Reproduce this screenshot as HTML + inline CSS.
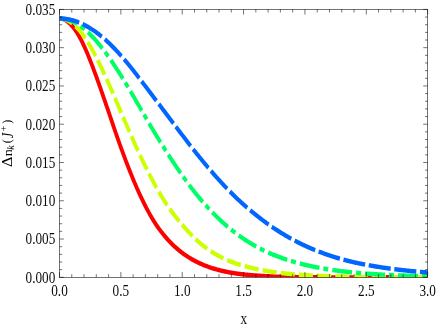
<!DOCTYPE html>
<html><head><meta charset="utf-8"><style>
html,body{margin:0;padding:0;background:#fff;}
body{width:436px;height:327px;overflow:hidden;}
svg{display:block;}
text{font-family:"Liberation Serif",serif;font-size:16.5px;fill:#000;}
</style></head><body>
<svg width="436" height="327" viewBox="0 0 436 327">
<rect width="436" height="327" fill="#fff"/>
<defs><clipPath id="c"><rect x="59.50" y="9.40" width="368.15" height="267.90"/></clipPath></defs>
<g clip-path="url(#c)"><g transform="scale(0.85,1)" fill="none" stroke-width="4.45">
<path d="M70.01,18.54 L70.91,18.55 L71.81,18.62 L72.73,18.75 L73.64,18.94 L74.56,19.20 L75.47,19.51 L76.39,19.88 L77.31,20.32 L78.24,20.81 L79.16,21.35 L80.08,21.96 L81.00,22.62 L81.93,23.34 L82.85,24.12 L83.78,24.95 L84.70,25.83 L85.62,26.77 L86.55,27.76 L87.47,28.80 L88.39,29.90 L89.31,31.04 L90.23,32.23 L91.15,33.48 L92.06,34.77 L92.97,36.10 L93.88,37.49 L94.78,38.92 L95.68,40.39 L96.57,41.91 L97.46,43.46 L98.35,45.06 L99.24,46.69 L100.13,48.36 L101.02,50.06 L101.90,51.80 L102.79,53.57 L103.68,55.38 L104.57,57.21 L105.45,59.07 L106.34,60.96 L107.22,62.87 L108.11,64.81 L109.00,66.78 L109.88,68.77 L110.77,70.78 L111.65,72.80 L112.54,74.85 L113.42,76.92 L114.31,79.00 L115.19,81.09 L116.07,83.20 L116.96,85.33 L117.84,87.46 L118.72,89.61 L119.61,91.76 L120.49,93.92 L121.37,96.09 L122.26,98.26 L123.14,100.44 L124.02,102.62 L124.90,104.81 L125.78,106.99 L126.67,109.18 L127.55,111.36 L128.42,113.55 L129.30,115.73 L130.17,117.91 L131.04,120.09 L131.90,122.26 L132.77,124.43 L133.63,126.59 L134.50,128.74 L135.36,130.88 L136.22,133.02 L137.09,135.14 L137.95,137.25 L138.82,139.36 L139.69,141.44 L140.55,143.52 L141.42,145.58 L142.29,147.63 L143.16,149.66 L144.03,151.68 L144.90,153.69 L145.77,155.67 L146.64,157.64 L147.51,159.60 L148.38,161.54 L149.25,163.46 L150.11,165.36 L150.98,167.25 L151.84,169.11 L152.70,170.96 L153.56,172.79 L154.42,174.60 L155.28,176.40 L156.13,178.17 L156.99,179.93 L157.84,181.66 L158.69,183.38 L159.54,185.07 L160.39,186.75 L161.24,188.40 L162.09,190.04 L162.94,191.65 L163.79,193.25 L164.64,194.82 L165.49,196.37 L166.34,197.90 L167.19,199.41 L168.05,200.90 L168.90,202.37 L169.75,203.82 L170.60,205.25 L171.44,206.66 L172.29,208.05 L173.13,209.42 L173.98,210.78 L174.83,212.11 L175.67,213.42 L176.52,214.71 L177.37,215.98 L178.22,217.23 L179.08,218.46 L179.94,219.66 L180.80,220.85 L181.66,222.02 L182.52,223.17 L183.39,224.30 L184.26,225.40 L185.14,226.49 L186.02,227.56 L186.90,228.60 L187.79,229.63 L188.67,230.64 L189.56,231.63 L190.45,232.60 L191.34,233.55 L192.23,234.49 L193.12,235.41 L194.01,236.32 L194.90,237.20 L195.79,238.07 L196.68,238.93 L197.57,239.77 L198.46,240.59 L199.35,241.40 L200.24,242.19 L201.14,242.96 L202.03,243.73 L202.92,244.47 L203.81,245.21 L204.70,245.92 L205.60,246.63 L206.49,247.32 L207.38,248.00 L208.27,248.66 L209.17,249.31 L210.06,249.95 L210.95,250.57 L211.85,251.19 L212.74,251.79 L213.63,252.37 L214.53,252.95 L215.42,253.52 L216.31,254.07 L217.21,254.61 L218.10,255.14 L218.99,255.66 L219.89,256.17 L220.78,256.67 L221.67,257.15 L222.57,257.63 L223.46,258.10 L224.36,258.56 L225.25,259.00 L226.14,259.44 L227.04,259.87 L227.93,260.29 L228.82,260.70 L229.72,261.11 L230.61,261.50 L231.51,261.88 L232.40,262.26 L233.29,262.63 L234.19,262.99 L235.08,263.34 L235.97,263.69 L236.87,264.03 L237.76,264.36 L238.65,264.68 L239.55,264.99 L240.44,265.30 L241.33,265.61 L242.23,265.90 L243.12,266.19 L244.01,266.47 L244.90,266.75 L245.80,267.02 L246.69,267.28 L247.58,267.54 L248.47,267.79 L249.37,268.04 L250.26,268.28 L251.15,268.51 L252.04,268.74 L252.94,268.97 L253.83,269.19 L254.72,269.40 L255.61,269.61 L256.50,269.82 L257.39,270.02 L258.29,270.21 L259.18,270.40 L260.07,270.59 L260.96,270.77 L261.85,270.95 L262.74,271.12 L263.63,271.29 L264.52,271.46 L265.41,271.62 L266.31,271.78 L267.20,271.93 L268.09,272.08 L268.98,272.23 L269.87,272.37 L270.76,272.51 L271.65,272.64 L272.54,272.77 L273.43,272.90 L274.32,273.02 L275.21,273.14 L276.10,273.26 L276.99,273.38 L277.88,273.49 L278.77,273.60 L279.66,273.70 L280.55,273.80 L281.44,273.90 L282.33,274.00 L283.22,274.10 L284.11,274.19 L285.00,274.28 L285.89,274.36 L286.78,274.45 L287.67,274.53 L288.56,274.61 L289.45,274.69 L290.34,274.77 L291.23,274.84 L292.11,274.91 L293.00,274.98 L293.89,275.05 L294.78,275.12 L295.67,275.18 L296.56,275.25 L297.44,275.31 L298.33,275.37 L299.22,275.42 L300.11,275.48 L301.00,275.54 L301.88,275.59 L302.77,275.64 L303.66,275.69 L304.55,275.74 L305.43,275.79 L306.32,275.84 L307.21,275.89 L308.10,275.93 L308.98,275.98 L309.87,276.02 L310.76,276.06 L311.64,276.10 L312.53,276.14 L313.42,276.18 L314.31,276.22 L315.19,276.26 L316.08,276.30 L316.97,276.33 L317.85,276.37 L318.74,276.40 L319.63,276.43 L320.51,276.46 L321.40,276.49 L322.28,276.52 L323.17,276.55 L324.06,276.58 L324.94,276.61 L325.83,276.63 L326.72,276.66 L327.60,276.68 L328.49,276.71 L329.38,276.73 L330.26,276.75 L331.15,276.78 L332.03,276.80 L332.92,276.82 L333.81,276.84 L334.69,276.86 L335.58,276.88 L336.46,276.90 L337.35,276.91 L338.24,276.93 L339.12,276.95 L340.01,276.97 L340.89,276.98 L341.78,277.00 L342.67,277.01 L343.55,277.03 L344.44,277.04 L345.32,277.05 L346.21,277.07 L347.10,277.08 L347.98,277.09 L348.87,277.10 L349.75,277.11 L350.64,277.13 L351.52,277.14 L352.41,277.15 L353.30,277.16 L354.18,277.17 L355.07,277.18 L355.95,277.18 L356.84,277.19 L357.72,277.20 L358.61,277.21 L359.49,277.22 L360.38,277.23 L361.27,277.23 L362.15,277.24 L363.04,277.25 L363.92,277.25 L364.81,277.26 L365.69,277.27 L366.58,277.27 L367.47,277.28 L368.35,277.28 L369.24,277.29 L370.12,277.29 L371.01,277.30 L371.89,277.30 L372.78,277.31 L373.66,277.31 L374.55,277.32 L375.43,277.32 L376.32,277.33 L377.21,277.33 L378.09,277.33 L378.98,277.34 L379.86,277.34 L380.75,277.34 L381.63,277.35 L382.52,277.35 L383.40,277.35 L384.29,277.36 L385.17,277.36 L386.06,277.36 L386.95,277.36 L387.83,277.37 L388.72,277.37 L389.60,277.37 L390.49,277.37 L391.37,277.38 L392.26,277.38 L393.14,277.38 L394.03,277.38 L394.91,277.38 L395.80,277.38 L396.69,277.39 L397.57,277.39 L398.46,277.39 L399.34,277.39 L400.23,277.39 L401.11,277.39 L402.00,277.39 L402.88,277.39 L403.77,277.39 L404.65,277.39 L405.54,277.39 L406.42,277.39 L407.31,277.39 L408.20,277.39 L409.08,277.39 L409.97,277.39 L410.85,277.39 L411.74,277.39 L412.62,277.39 L413.51,277.39 L414.39,277.39 L415.28,277.39 L416.16,277.39 L417.05,277.39 L417.93,277.39 L418.82,277.39 L419.70,277.39 L420.59,277.39 L421.48,277.39 L422.36,277.39 L423.25,277.39 L424.13,277.38 L425.02,277.38 L425.90,277.38 L426.79,277.38 L427.67,277.38 L428.56,277.38 L429.44,277.38 L430.33,277.38 L431.21,277.38 L432.10,277.37 L432.99,277.37 L433.87,277.37 L434.76,277.37 L435.64,277.37 L436.53,277.37 L437.41,277.37 L438.30,277.36 L439.18,277.36 L440.07,277.36 L440.95,277.36 L441.84,277.36 L442.72,277.36 L443.61,277.36 L444.49,277.35 L445.38,277.35 L446.27,277.35 L447.15,277.35 L448.04,277.35 L448.92,277.35 L449.81,277.35 L450.69,277.34 L451.58,277.34 L452.46,277.34 L453.35,277.34 L454.23,277.34 L455.12,277.34 L456.00,277.34 L456.89,277.33 L457.77,277.33 L458.66,277.33 L459.55,277.33 L460.43,277.33 L461.32,277.33 L462.20,277.33 L463.09,277.32 L463.97,277.32 L464.86,277.32 L465.74,277.32 L466.63,277.32 L467.51,277.32 L468.40,277.32 L469.28,277.32 L470.17,277.31 L471.05,277.31 L471.94,277.31 L472.83,277.31 L473.71,277.31 L474.60,277.31 L475.48,277.31 L476.37,277.31 L477.25,277.30 L478.14,277.30 L479.02,277.30 L479.91,277.30 L480.79,277.30 L481.68,277.30 L482.56,277.30 L483.45,277.30 L484.33,277.30 L485.22,277.30 L486.11,277.30 L486.99,277.30 L487.88,277.30 L488.76,277.29 L489.65,277.29 L490.53,277.29 L491.42,277.29 L492.30,277.29 L493.19,277.29 L494.07,277.29 L494.96,277.29 L495.84,277.29 L496.73,277.29 L497.61,277.29 L498.50,277.29 L499.39,277.29 L500.27,277.29 L501.16,277.29 L502.04,277.29 L502.93,277.29 L503.81,277.29 L504.70,277.29 L505.58,277.29 L506.47,277.29 L507.35,277.29 L508.24,277.29 L509.12,277.29 L510.01,277.29 L510.89,277.29 L511.78,277.29" stroke="#ff0000"/>
<path d="M70.01,18.54 L70.90,18.54 L71.80,18.58 L72.70,18.66 L73.60,18.78 L74.51,18.93 L75.41,19.13 L76.32,19.36 L77.23,19.63 L78.13,19.93 L79.04,20.27 L79.95,20.65 L80.86,21.07 L81.77,21.52 L82.68,22.01 L83.60,22.54 L84.51,23.10 L85.42,23.69 L86.33,24.32 L87.24,24.99 L88.16,25.69 L89.07,26.42 L89.98,27.19 L90.89,27.99 L91.80,28.82 L92.71,29.69 L93.62,30.59 L94.53,31.52 L95.43,32.48 L96.34,33.47 L97.24,34.49 L98.15,35.54 L99.05,36.62 L99.95,37.73 L100.84,38.87 L101.74,40.04 L102.63,41.23 L103.52,42.45 L104.41,43.69 L105.30,44.96 L106.19,46.26 L107.07,47.57 L107.96,48.91 L108.85,50.27 L109.74,51.65 L110.62,53.06 L111.51,54.48 L112.40,55.92 L113.28,57.38 L114.17,58.86 L115.05,60.36 L115.94,61.88 L116.82,63.41 L117.71,64.96 L118.59,66.52 L119.48,68.10 L120.36,69.69 L121.24,71.29 L122.13,72.91 L123.01,74.54 L123.89,76.18 L124.78,77.83 L125.66,79.49 L126.54,81.16 L127.42,82.84 L128.30,84.52 L129.19,86.22 L130.07,87.92 L130.95,89.63 L131.83,91.34 L132.71,93.06 L133.59,94.79 L134.47,96.52 L135.35,98.25 L136.24,99.99 L137.12,101.72 L138.00,103.46 L138.88,105.21 L139.76,106.95 L140.64,108.69 L141.52,110.43 L142.39,112.18 L143.27,113.92 L144.15,115.66 L145.03,117.40 L145.90,119.13 L146.77,120.87 L147.65,122.60 L148.52,124.32 L149.39,126.05 L150.27,127.77 L151.14,129.48 L152.01,131.19 L152.88,132.89 L153.76,134.58 L154.63,136.27 L155.50,137.96 L156.37,139.63 L157.25,141.30 L158.12,142.96 L159.00,144.61 L159.87,146.25 L160.75,147.88 L161.62,149.51 L162.50,151.12 L163.37,152.73 L164.25,154.32 L165.12,155.91 L165.99,157.48 L166.87,159.05 L167.74,160.60 L168.62,162.14 L169.49,163.68 L170.37,165.20 L171.24,166.71 L172.11,168.21 L172.98,169.69 L173.86,171.17 L174.73,172.63 L175.59,174.08 L176.46,175.53 L177.33,176.95 L178.19,178.37 L179.06,179.78 L179.92,181.17 L180.79,182.55 L181.65,183.91 L182.52,185.27 L183.38,186.61 L184.25,187.93 L185.12,189.25 L185.99,190.54 L186.86,191.83 L187.73,193.10 L188.61,194.36 L189.48,195.60 L190.36,196.83 L191.24,198.04 L192.13,199.24 L193.01,200.43 L193.90,201.60 L194.79,202.75 L195.68,203.90 L196.57,205.03 L197.46,206.14 L198.35,207.24 L199.25,208.33 L200.14,209.40 L201.03,210.46 L201.93,211.51 L202.82,212.54 L203.71,213.56 L204.61,214.57 L205.50,215.57 L206.39,216.55 L207.29,217.52 L208.18,218.47 L209.07,219.42 L209.96,220.35 L210.85,221.27 L211.74,222.18 L212.62,223.08 L213.51,223.97 L214.40,224.84 L215.28,225.70 L216.16,226.56 L217.04,227.40 L217.91,228.24 L218.78,229.07 L219.65,229.89 L220.51,230.70 L221.37,231.50 L222.23,232.30 L223.09,233.08 L223.95,233.85 L224.80,234.62 L225.66,235.37 L226.51,236.12 L227.37,236.85 L228.23,237.58 L229.08,238.29 L229.94,239.00 L230.80,239.69 L231.66,240.37 L232.53,241.04 L233.39,241.71 L234.26,242.36 L235.12,243.00 L235.99,243.63 L236.87,244.24 L237.74,244.85 L238.62,245.45 L239.50,246.03 L240.38,246.60 L241.26,247.17 L242.14,247.72 L243.03,248.27 L243.91,248.80 L244.79,249.33 L245.68,249.85 L246.56,250.36 L247.45,250.87 L248.33,251.36 L249.22,251.85 L250.10,252.33 L250.99,252.80 L251.88,253.26 L252.76,253.72 L253.65,254.16 L254.54,254.60 L255.43,255.04 L256.31,255.46 L257.20,255.88 L258.09,256.29 L258.98,256.69 L259.87,257.09 L260.76,257.48 L261.65,257.86 L262.54,258.23 L263.43,258.60 L264.32,258.96 L265.21,259.31 L266.11,259.66 L267.00,260.00 L267.89,260.33 L268.79,260.66 L269.68,260.97 L270.58,261.28 L271.47,261.58 L272.37,261.88 L273.27,262.17 L274.16,262.45 L275.06,262.73 L275.96,263.00 L276.85,263.27 L277.75,263.53 L278.65,263.78 L279.55,264.03 L280.44,264.27 L281.34,264.51 L282.24,264.75 L283.13,264.98 L284.03,265.20 L284.92,265.42 L285.82,265.64 L286.71,265.86 L287.61,266.07 L288.50,266.27 L289.39,266.48 L290.29,266.68 L291.18,266.88 L292.07,267.07 L292.96,267.26 L293.85,267.45 L294.74,267.64 L295.63,267.83 L296.52,268.01 L297.41,268.19 L298.30,268.37 L299.18,268.54 L300.07,268.71 L300.96,268.88 L301.85,269.04 L302.74,269.20 L303.63,269.36 L304.51,269.52 L305.40,269.67 L306.29,269.82 L307.18,269.97 L308.07,270.11 L308.95,270.25 L309.84,270.39 L310.73,270.52 L311.62,270.66 L312.50,270.79 L313.39,270.92 L314.28,271.04 L315.17,271.17 L316.05,271.29 L316.94,271.41 L317.83,271.53 L318.72,271.64 L319.60,271.75 L320.49,271.86 L321.38,271.97 L322.26,272.08 L323.15,272.18 L324.04,272.28 L324.92,272.38 L325.81,272.48 L326.70,272.58 L327.58,272.67 L328.47,272.77 L329.36,272.86 L330.24,272.95 L331.13,273.04 L332.02,273.12 L332.90,273.21 L333.79,273.29 L334.68,273.37 L335.56,273.45 L336.45,273.53 L337.33,273.60 L338.22,273.68 L339.11,273.75 L339.99,273.83 L340.88,273.90 L341.77,273.97 L342.65,274.03 L343.54,274.10 L344.42,274.17 L345.31,274.23 L346.20,274.29 L347.08,274.36 L347.97,274.42 L348.85,274.48 L349.74,274.53 L350.63,274.59 L351.51,274.65 L352.40,274.70 L353.28,274.76 L354.17,274.81 L355.06,274.86 L355.94,274.91 L356.83,274.96 L357.71,275.01 L358.60,275.06 L359.48,275.11 L360.37,275.15 L361.26,275.20 L362.14,275.24 L363.03,275.28 L363.91,275.33 L364.80,275.37 L365.69,275.41 L366.57,275.45 L367.46,275.49 L368.34,275.53 L369.23,275.56 L370.11,275.60 L371.00,275.64 L371.89,275.67 L372.77,275.71 L373.66,275.74 L374.54,275.77 L375.43,275.81 L376.31,275.84 L377.20,275.87 L378.08,275.90 L378.97,275.93 L379.86,275.96 L380.74,275.99 L381.63,276.01 L382.51,276.04 L383.40,276.07 L384.28,276.10 L385.17,276.12 L386.06,276.15 L386.94,276.17 L387.83,276.20 L388.71,276.22 L389.60,276.24 L390.48,276.26 L391.37,276.29 L392.25,276.31 L393.14,276.33 L394.02,276.35 L394.91,276.37 L395.80,276.39 L396.68,276.41 L397.57,276.43 L398.45,276.45 L399.34,276.47 L400.22,276.48 L401.11,276.50 L401.99,276.52 L402.88,276.54 L403.77,276.55 L404.65,276.57 L405.54,276.58 L406.42,276.60 L407.31,276.61 L408.19,276.63 L409.08,276.64 L409.96,276.66 L410.85,276.67 L411.73,276.68 L412.62,276.70 L413.51,276.71 L414.39,276.72 L415.28,276.74 L416.16,276.75 L417.05,276.76 L417.93,276.77 L418.82,276.78 L419.70,276.79 L420.59,276.80 L421.47,276.81 L422.36,276.82 L423.24,276.83 L424.13,276.84 L425.02,276.85 L425.90,276.86 L426.79,276.87 L427.67,276.88 L428.56,276.89 L429.44,276.90 L430.33,276.91 L431.21,276.92 L432.10,276.92 L432.98,276.93 L433.87,276.94 L434.75,276.95 L435.64,276.95 L436.53,276.96 L437.41,276.97 L438.30,276.97 L439.18,276.98 L440.07,276.99 L440.95,276.99 L441.84,277.00 L442.72,277.01 L443.61,277.01 L444.49,277.02 L445.38,277.02 L446.26,277.03 L447.15,277.03 L448.04,277.04 L448.92,277.04 L449.81,277.05 L450.69,277.05 L451.58,277.06 L452.46,277.06 L453.35,277.07 L454.23,277.07 L455.12,277.08 L456.00,277.08 L456.89,277.09 L457.77,277.09 L458.66,277.09 L459.55,277.10 L460.43,277.10 L461.32,277.10 L462.20,277.11 L463.09,277.11 L463.97,277.11 L464.86,277.12 L465.74,277.12 L466.63,277.12 L467.51,277.13 L468.40,277.13 L469.28,277.13 L470.17,277.14 L471.05,277.14 L471.94,277.14 L472.83,277.14 L473.71,277.15 L474.60,277.15 L475.48,277.15 L476.37,277.16 L477.25,277.16 L478.14,277.16 L479.02,277.16 L479.91,277.16 L480.79,277.17 L481.68,277.17 L482.56,277.17 L483.45,277.17 L484.33,277.17 L485.22,277.18 L486.11,277.18 L486.99,277.18 L487.88,277.18 L488.76,277.18 L489.65,277.19 L490.53,277.19 L491.42,277.19 L492.30,277.19 L493.19,277.19 L494.07,277.19 L494.96,277.20 L495.84,277.20 L496.73,277.20 L497.61,277.20 L498.50,277.20 L499.39,277.20 L500.27,277.21 L501.16,277.21 L502.04,277.21 L502.93,277.21 L503.81,277.21 L504.70,277.21 L505.58,277.21 L506.47,277.22 L507.35,277.22 L508.24,277.22 L509.12,277.22 L510.01,277.22 L510.89,277.22 L511.78,277.22" stroke="#ccff00" stroke-dasharray="16.7 4.75" stroke-dashoffset="0.64"/>
<path d="M70.00,18.54 L70.89,18.55 L71.78,18.58 L72.67,18.63 L73.57,18.70 L74.46,18.79 L75.35,18.90 L76.24,19.03 L77.13,19.18 L78.02,19.35 L78.91,19.54 L79.80,19.75 L80.69,19.98 L81.59,20.22 L82.48,20.49 L83.37,20.78 L84.26,21.09 L85.15,21.41 L86.04,21.76 L86.92,22.12 L87.81,22.50 L88.70,22.91 L89.59,23.33 L90.48,23.77 L91.37,24.22 L92.26,24.70 L93.15,25.19 L94.04,25.71 L94.92,26.24 L95.81,26.79 L96.70,27.35 L97.59,27.93 L98.48,28.53 L99.36,29.15 L100.25,29.79 L101.14,30.44 L102.03,31.11 L102.91,31.79 L103.80,32.49 L104.69,33.21 L105.57,33.94 L106.46,34.69 L107.35,35.45 L108.23,36.23 L109.12,37.03 L110.01,37.83 L110.89,38.66 L111.78,39.50 L112.67,40.35 L113.55,41.22 L114.44,42.10 L115.32,42.99 L116.21,43.90 L117.10,44.82 L117.98,45.75 L118.87,46.70 L119.75,47.66 L120.64,48.63 L121.52,49.61 L122.41,50.61 L123.30,51.61 L124.18,52.63 L125.07,53.66 L125.95,54.70 L126.84,55.75 L127.72,56.81 L128.61,57.88 L129.49,58.96 L130.38,60.05 L131.26,61.15 L132.15,62.26 L133.03,63.38 L133.92,64.50 L134.80,65.64 L135.69,66.78 L136.57,67.93 L137.46,69.09 L138.34,70.25 L139.23,71.43 L140.11,72.61 L141.00,73.79 L141.88,74.98 L142.76,76.18 L143.65,77.39 L144.53,78.60 L145.41,79.82 L146.29,81.04 L147.17,82.27 L148.05,83.50 L148.93,84.74 L149.80,85.98 L150.68,87.23 L151.55,88.48 L152.43,89.74 L153.30,91.00 L154.18,92.26 L155.05,93.52 L155.92,94.79 L156.79,96.06 L157.67,97.34 L158.54,98.61 L159.41,99.89 L160.28,101.17 L161.15,102.45 L162.02,103.73 L162.89,105.01 L163.77,106.29 L164.64,107.57 L165.51,108.86 L166.38,110.14 L167.25,111.42 L168.13,112.70 L169.00,113.99 L169.87,115.27 L170.75,116.55 L171.62,117.82 L172.50,119.10 L173.37,120.38 L174.25,121.65 L175.13,122.92 L176.01,124.19 L176.89,125.45 L177.77,126.72 L178.65,127.98 L179.53,129.23 L180.41,130.49 L181.30,131.74 L182.19,132.99 L183.07,134.23 L183.96,135.47 L184.84,136.71 L185.73,137.94 L186.61,139.17 L187.50,140.40 L188.38,141.62 L189.27,142.84 L190.16,144.05 L191.04,145.26 L191.93,146.46 L192.81,147.66 L193.70,148.86 L194.58,150.05 L195.47,151.24 L196.35,152.42 L197.24,153.59 L198.13,154.76 L199.01,155.93 L199.90,157.09 L200.78,158.24 L201.67,159.39 L202.55,160.53 L203.44,161.67 L204.32,162.80 L205.20,163.93 L206.08,165.05 L206.96,166.17 L207.84,167.28 L208.72,168.38 L209.60,169.48 L210.48,170.57 L211.36,171.66 L212.23,172.74 L213.11,173.82 L213.98,174.88 L214.86,175.95 L215.74,177.00 L216.61,178.05 L217.49,179.09 L218.36,180.13 L219.24,181.15 L220.12,182.17 L220.99,183.19 L221.87,184.20 L222.75,185.20 L223.62,186.19 L224.50,187.18 L225.38,188.15 L226.26,189.12 L227.14,190.09 L228.02,191.04 L228.90,191.99 L229.78,192.93 L230.67,193.87 L231.55,194.80 L232.43,195.71 L233.31,196.63 L234.19,197.53 L235.08,198.43 L235.96,199.32 L236.84,200.21 L237.72,201.08 L238.61,201.95 L239.49,202.81 L240.37,203.67 L241.25,204.52 L242.14,205.36 L243.02,206.19 L243.90,207.02 L244.78,207.84 L245.67,208.65 L246.55,209.46 L247.43,210.25 L248.32,211.04 L249.20,211.83 L250.08,212.60 L250.97,213.37 L251.85,214.14 L252.74,214.89 L253.62,215.64 L254.50,216.38 L255.39,217.12 L256.27,217.85 L257.16,218.57 L258.04,219.28 L258.93,219.99 L259.81,220.69 L260.70,221.38 L261.58,222.07 L262.47,222.75 L263.35,223.42 L264.24,224.09 L265.12,224.75 L266.01,225.40 L266.89,226.05 L267.78,226.69 L268.67,227.32 L269.55,227.95 L270.44,228.57 L271.32,229.19 L272.21,229.80 L273.10,230.40 L273.98,230.99 L274.87,231.58 L275.76,232.17 L276.64,232.74 L277.53,233.31 L278.42,233.88 L279.30,234.44 L280.19,234.99 L281.08,235.54 L281.96,236.08 L282.85,236.61 L283.74,237.14 L284.63,237.67 L285.51,238.18 L286.40,238.69 L287.29,239.20 L288.18,239.70 L289.07,240.20 L289.95,240.68 L290.84,241.17 L291.73,241.65 L292.62,242.12 L293.51,242.59 L294.40,243.05 L295.28,243.50 L296.17,243.96 L297.06,244.40 L297.95,244.84 L298.84,245.28 L299.73,245.71 L300.62,246.14 L301.50,246.56 L302.39,246.97 L303.28,247.38 L304.17,247.79 L305.06,248.19 L305.95,248.58 L306.84,248.98 L307.73,249.36 L308.62,249.74 L309.51,250.12 L310.40,250.49 L311.29,250.86 L312.17,251.23 L313.06,251.58 L313.96,251.94 L314.85,252.28 L315.74,252.63 L316.63,252.96 L317.52,253.29 L318.42,253.62 L319.31,253.94 L320.20,254.26 L321.10,254.57 L321.99,254.88 L322.88,255.18 L323.78,255.48 L324.67,255.78 L325.56,256.07 L326.46,256.36 L327.35,256.64 L328.24,256.93 L329.13,257.20 L330.03,257.48 L330.92,257.75 L331.81,258.02 L332.70,258.28 L333.59,258.55 L334.48,258.81 L335.37,259.07 L336.26,259.32 L337.15,259.57 L338.04,259.82 L338.93,260.06 L339.82,260.31 L340.71,260.55 L341.60,260.78 L342.49,261.01 L343.37,261.24 L344.26,261.47 L345.15,261.69 L346.04,261.91 L346.93,262.13 L347.82,262.35 L348.71,262.56 L349.60,262.77 L350.48,262.97 L351.37,263.18 L352.26,263.38 L353.15,263.58 L354.04,263.77 L354.93,263.97 L355.81,264.16 L356.70,264.35 L357.59,264.53 L358.48,264.71 L359.37,264.90 L360.25,265.07 L361.14,265.25 L362.03,265.42 L362.92,265.59 L363.81,265.76 L364.69,265.93 L365.58,266.09 L366.47,266.26 L367.36,266.42 L368.24,266.57 L369.13,266.73 L370.02,266.88 L370.91,267.04 L371.79,267.18 L372.68,267.33 L373.57,267.48 L374.45,267.62 L375.34,267.76 L376.23,267.90 L377.12,268.04 L378.00,268.17 L378.89,268.31 L379.78,268.44 L380.66,268.57 L381.55,268.70 L382.44,268.83 L383.33,268.95 L384.21,269.07 L385.10,269.19 L385.99,269.31 L386.87,269.43 L387.76,269.55 L388.65,269.66 L389.53,269.78 L390.42,269.89 L391.31,270.00 L392.19,270.11 L393.08,270.21 L393.97,270.32 L394.85,270.42 L395.74,270.53 L396.63,270.63 L397.51,270.73 L398.40,270.82 L399.29,270.92 L400.17,271.02 L401.06,271.11 L401.94,271.20 L402.83,271.29 L403.72,271.38 L404.60,271.47 L405.49,271.56 L406.38,271.65 L407.26,271.73 L408.15,271.81 L409.04,271.90 L409.92,271.98 L410.81,272.06 L411.69,272.14 L412.58,272.22 L413.47,272.29 L414.35,272.37 L415.24,272.44 L416.13,272.51 L417.01,272.59 L417.90,272.66 L418.78,272.73 L419.67,272.80 L420.56,272.87 L421.44,272.93 L422.33,273.00 L423.21,273.06 L424.10,273.13 L424.99,273.19 L425.87,273.25 L426.76,273.31 L427.64,273.37 L428.53,273.43 L429.42,273.49 L430.30,273.55 L431.19,273.61 L432.07,273.66 L432.96,273.72 L433.85,273.77 L434.73,273.82 L435.62,273.88 L436.50,273.93 L437.39,273.98 L438.28,274.03 L439.16,274.08 L440.05,274.13 L440.93,274.18 L441.82,274.22 L442.70,274.27 L443.59,274.31 L444.48,274.36 L445.36,274.40 L446.25,274.45 L447.13,274.49 L448.02,274.53 L448.91,274.57 L449.79,274.61 L450.68,274.65 L451.56,274.69 L452.45,274.73 L453.33,274.77 L454.22,274.81 L455.11,274.84 L455.99,274.88 L456.88,274.92 L457.76,274.95 L458.65,274.99 L459.53,275.02 L460.42,275.05 L461.31,275.09 L462.19,275.12 L463.08,275.15 L463.96,275.18 L464.85,275.22 L465.73,275.25 L466.62,275.28 L467.50,275.31 L468.39,275.33 L469.28,275.36 L470.16,275.39 L471.05,275.42 L471.93,275.45 L472.82,275.47 L473.70,275.50 L474.59,275.53 L475.47,275.55 L476.36,275.58 L477.25,275.60 L478.13,275.63 L479.02,275.65 L479.90,275.67 L480.79,275.70 L481.67,275.72 L482.56,275.74 L483.44,275.76 L484.33,275.79 L485.22,275.81 L486.10,275.83 L486.99,275.85 L487.87,275.87 L488.76,275.89 L489.64,275.91 L490.53,275.93 L491.41,275.95 L492.30,275.97 L493.18,275.99 L494.07,276.00 L494.96,276.02 L495.84,276.04 L496.73,276.06 L497.61,276.07 L498.50,276.09 L499.38,276.11 L500.27,276.12 L501.15,276.14 L502.04,276.16 L502.92,276.17 L503.81,276.19 L504.70,276.20 L505.58,276.22 L506.47,276.23 L507.35,276.25 L508.24,276.26 L509.12,276.28 L510.01,276.29 L510.89,276.30 L511.78,276.32" stroke="#00ff66" stroke-dasharray="23.45 4.6 5.9 4.82" stroke-dashoffset="1.78"/>
<path d="M70.00,18.54 L70.89,18.54 L71.78,18.56 L72.67,18.59 L73.56,18.63 L74.45,18.69 L75.33,18.75 L76.22,18.83 L77.11,18.92 L78.00,19.03 L78.89,19.14 L79.78,19.27 L80.67,19.40 L81.56,19.55 L82.45,19.71 L83.33,19.89 L84.22,20.07 L85.11,20.27 L86.00,20.48 L86.89,20.70 L87.78,20.93 L88.67,21.18 L89.55,21.43 L90.44,21.70 L91.33,21.98 L92.22,22.27 L93.11,22.57 L94.00,22.88 L94.88,23.20 L95.77,23.54 L96.66,23.89 L97.55,24.24 L98.44,24.61 L99.32,24.99 L100.21,25.38 L101.10,25.78 L101.99,26.20 L102.87,26.62 L103.76,27.05 L104.65,27.50 L105.54,27.95 L106.42,28.42 L107.31,28.89 L108.20,29.38 L109.08,29.88 L109.97,30.38 L110.86,30.90 L111.75,31.43 L112.63,31.96 L113.52,32.51 L114.41,33.07 L115.29,33.63 L116.18,34.21 L117.07,34.80 L117.95,35.39 L118.83,36.00 L119.72,36.62 L120.60,37.24 L121.48,37.88 L122.36,38.53 L123.24,39.18 L124.12,39.85 L125.00,40.52 L125.87,41.20 L126.75,41.90 L127.63,42.60 L128.50,43.31 L129.37,44.03 L130.25,44.75 L131.12,45.49 L131.99,46.23 L132.86,46.98 L133.73,47.74 L134.61,48.51 L135.48,49.28 L136.34,50.06 L137.21,50.85 L138.08,51.65 L138.95,52.45 L139.82,53.26 L140.69,54.08 L141.56,54.90 L142.42,55.73 L143.29,56.57 L144.16,57.41 L145.03,58.26 L145.90,59.11 L146.77,59.97 L147.63,60.84 L148.50,61.71 L149.37,62.59 L150.23,63.48 L151.10,64.37 L151.96,65.26 L152.82,66.17 L153.68,67.08 L154.54,67.99 L155.40,68.91 L156.26,69.83 L157.11,70.76 L157.97,71.69 L158.83,72.63 L159.69,73.57 L160.54,74.52 L161.40,75.47 L162.26,76.42 L163.12,77.38 L163.98,78.34 L164.84,79.30 L165.70,80.27 L166.57,81.23 L167.43,82.20 L168.30,83.17 L169.16,84.15 L170.04,85.12 L170.91,86.10 L171.78,87.08 L172.66,88.06 L173.54,89.04 L174.42,90.02 L175.31,91.00 L176.19,91.98 L177.08,92.96 L177.96,93.95 L178.85,94.94 L179.73,95.93 L180.62,96.92 L181.51,97.91 L182.39,98.91 L183.28,99.90 L184.17,100.90 L185.05,101.90 L185.94,102.90 L186.83,103.90 L187.72,104.90 L188.60,105.90 L189.49,106.90 L190.38,107.90 L191.27,108.91 L192.15,109.91 L193.04,110.91 L193.93,111.92 L194.81,112.92 L195.70,113.92 L196.59,114.93 L197.48,115.93 L198.36,116.93 L199.25,117.94 L200.13,118.94 L201.02,119.94 L201.91,120.95 L202.79,121.95 L203.68,122.95 L204.56,123.95 L205.44,124.95 L206.33,125.95 L207.21,126.94 L208.09,127.94 L208.98,128.94 L209.86,129.93 L210.74,130.92 L211.62,131.92 L212.50,132.91 L213.39,133.89 L214.27,134.88 L215.15,135.87 L216.03,136.85 L216.91,137.83 L217.79,138.81 L218.67,139.79 L219.55,140.76 L220.43,141.74 L221.31,142.71 L222.19,143.68 L223.07,144.64 L223.95,145.61 L224.83,146.57 L225.71,147.53 L226.60,148.48 L227.48,149.44 L228.36,150.39 L229.24,151.33 L230.12,152.28 L231.00,153.22 L231.88,154.16 L232.76,155.09 L233.64,156.02 L234.53,156.95 L235.41,157.88 L236.29,158.80 L237.17,159.72 L238.06,160.63 L238.94,161.54 L239.82,162.45 L240.71,163.35 L241.59,164.25 L242.47,165.15 L243.36,166.05 L244.24,166.94 L245.12,167.82 L246.00,168.71 L246.89,169.58 L247.77,170.46 L248.65,171.33 L249.54,172.20 L250.42,173.06 L251.30,173.92 L252.19,174.78 L253.07,175.63 L253.95,176.48 L254.84,177.32 L255.72,178.16 L256.61,179.00 L257.49,179.83 L258.37,180.65 L259.26,181.48 L260.14,182.30 L261.03,183.11 L261.91,183.92 L262.80,184.73 L263.68,185.53 L264.57,186.32 L265.45,187.12 L266.34,187.90 L267.23,188.69 L268.11,189.47 L269.00,190.24 L269.89,191.01 L270.77,191.78 L271.66,192.54 L272.55,193.29 L273.44,194.05 L274.32,194.79 L275.21,195.54 L276.10,196.27 L276.99,197.01 L277.88,197.73 L278.77,198.46 L279.66,199.17 L280.55,199.89 L281.45,200.59 L282.34,201.29 L283.24,201.99 L284.13,202.68 L285.03,203.37 L285.92,204.05 L286.82,204.73 L287.71,205.40 L288.61,206.07 L289.51,206.73 L290.40,207.39 L291.30,208.04 L292.19,208.69 L293.09,209.34 L293.99,209.98 L294.88,210.62 L295.78,211.25 L296.67,211.88 L297.57,212.50 L298.46,213.12 L299.35,213.74 L300.25,214.35 L301.14,214.96 L302.03,215.56 L302.92,216.16 L303.81,216.76 L304.70,217.35 L305.59,217.94 L306.48,218.53 L307.37,219.11 L308.26,219.68 L309.15,220.25 L310.03,220.82 L310.92,221.39 L311.81,221.94 L312.70,222.50 L313.59,223.05 L314.48,223.60 L315.37,224.14 L316.26,224.68 L317.15,225.21 L318.04,225.74 L318.93,226.26 L319.82,226.78 L320.71,227.30 L321.60,227.81 L322.48,228.32 L323.37,228.83 L324.26,229.33 L325.15,229.82 L326.04,230.31 L326.93,230.80 L327.82,231.29 L328.71,231.76 L329.60,232.24 L330.49,232.71 L331.38,233.18 L332.27,233.64 L333.16,234.10 L334.05,234.56 L334.94,235.01 L335.83,235.46 L336.72,235.90 L337.61,236.34 L338.50,236.78 L339.39,237.21 L340.28,237.64 L341.17,238.07 L342.06,238.49 L342.95,238.90 L343.84,239.32 L344.73,239.72 L345.62,240.13 L346.51,240.53 L347.40,240.93 L348.29,241.32 L349.18,241.71 L350.07,242.10 L350.96,242.48 L351.85,242.86 L352.74,243.24 L353.63,243.61 L354.53,243.98 L355.42,244.35 L356.31,244.71 L357.20,245.07 L358.09,245.42 L358.98,245.77 L359.87,246.12 L360.76,246.47 L361.65,246.81 L362.54,247.15 L363.43,247.48 L364.33,247.81 L365.22,248.14 L366.11,248.47 L367.00,248.79 L367.89,249.11 L368.78,249.42 L369.67,249.74 L370.56,250.05 L371.45,250.35 L372.34,250.66 L373.23,250.96 L374.13,251.25 L375.02,251.55 L375.91,251.84 L376.80,252.13 L377.69,252.41 L378.58,252.69 L379.47,252.97 L380.36,253.25 L381.25,253.53 L382.14,253.80 L383.03,254.06 L383.92,254.33 L384.81,254.59 L385.70,254.85 L386.59,255.11 L387.48,255.36 L388.37,255.62 L389.26,255.87 L390.15,256.11 L391.05,256.36 L391.94,256.60 L392.83,256.84 L393.72,257.08 L394.61,257.31 L395.50,257.54 L396.39,257.77 L397.28,258.00 L398.16,258.22 L399.05,258.44 L399.94,258.66 L400.83,258.88 L401.72,259.10 L402.61,259.31 L403.50,259.52 L404.39,259.72 L405.28,259.93 L406.17,260.13 L407.06,260.33 L407.95,260.52 L408.85,260.72 L409.74,260.91 L410.63,261.10 L411.52,261.28 L412.41,261.47 L413.30,261.65 L414.19,261.83 L415.08,262.00 L415.97,262.18 L416.86,262.35 L417.75,262.52 L418.64,262.69 L419.53,262.86 L420.42,263.02 L421.31,263.18 L422.20,263.34 L423.09,263.50 L423.98,263.66 L424.87,263.81 L425.76,263.97 L426.65,264.12 L427.54,264.27 L428.43,264.41 L429.32,264.56 L430.21,264.70 L431.10,264.84 L431.99,264.98 L432.88,265.12 L433.77,265.26 L434.66,265.40 L435.54,265.53 L436.43,265.66 L437.32,265.79 L438.21,265.92 L439.10,266.05 L439.99,266.18 L440.88,266.30 L441.77,266.43 L442.65,266.55 L443.54,266.67 L444.43,266.79 L445.32,266.91 L446.21,267.03 L447.09,267.14 L447.98,267.26 L448.87,267.37 L449.76,267.49 L450.64,267.60 L451.53,267.71 L452.42,267.82 L453.31,267.93 L454.19,268.04 L455.08,268.14 L455.97,268.25 L456.85,268.36 L457.74,268.46 L458.63,268.56 L459.51,268.67 L460.40,268.77 L461.29,268.87 L462.17,268.97 L463.06,269.07 L463.94,269.16 L464.83,269.26 L465.72,269.35 L466.60,269.45 L467.49,269.54 L468.38,269.63 L469.26,269.72 L470.15,269.81 L471.03,269.90 L471.92,269.99 L472.81,270.07 L473.69,270.16 L474.58,270.24 L475.47,270.32 L476.35,270.41 L477.24,270.49 L478.12,270.57 L479.01,270.65 L479.90,270.73 L480.78,270.80 L481.67,270.88 L482.55,270.96 L483.44,271.03 L484.33,271.10 L485.21,271.18 L486.10,271.25 L486.98,271.32 L487.87,271.39 L488.75,271.46 L489.64,271.53 L490.53,271.60 L491.41,271.67 L492.30,271.73 L493.18,271.80 L494.07,271.86 L494.95,271.93 L495.84,271.99 L496.73,272.06 L497.61,272.12 L498.50,272.18 L499.38,272.24 L500.27,272.30 L501.15,272.36 L502.04,272.42 L502.92,272.48 L503.81,272.54 L504.70,272.59 L505.58,272.65 L506.47,272.71 L507.35,272.76 L508.24,272.82 L509.12,272.87 L510.01,272.92 L510.89,272.98 L511.78,273.03" stroke="#0066ff" stroke-dasharray="26.0 4.3" stroke-dashoffset="2.45"/>
</g></g>
<g stroke="#000" stroke-width="0.55" fill="none">
<rect x="59.50" y="9.40" width="368.15" height="267.90"/>
<path d="M59.50,277.30v-5.20M59.50,9.40v5.20M71.77,277.30v-3.10M71.77,9.40v3.10M84.04,277.30v-3.10M84.04,9.40v3.10M96.31,277.30v-3.10M96.31,9.40v3.10M108.59,277.30v-3.10M108.59,9.40v3.10M120.86,277.30v-5.20M120.86,9.40v5.20M133.13,277.30v-3.10M133.13,9.40v3.10M145.40,277.30v-3.10M145.40,9.40v3.10M157.67,277.30v-3.10M157.67,9.40v3.10M169.94,277.30v-3.10M169.94,9.40v3.10M182.22,277.30v-5.20M182.22,9.40v5.20M194.49,277.30v-3.10M194.49,9.40v3.10M206.76,277.30v-3.10M206.76,9.40v3.10M219.03,277.30v-3.10M219.03,9.40v3.10M231.30,277.30v-3.10M231.30,9.40v3.10M243.57,277.30v-5.20M243.57,9.40v5.20M255.85,277.30v-3.10M255.85,9.40v3.10M268.12,277.30v-3.10M268.12,9.40v3.10M280.39,277.30v-3.10M280.39,9.40v3.10M292.66,277.30v-3.10M292.66,9.40v3.10M304.93,277.30v-5.20M304.93,9.40v5.20M317.20,277.30v-3.10M317.20,9.40v3.10M329.48,277.30v-3.10M329.48,9.40v3.10M341.75,277.30v-3.10M341.75,9.40v3.10M354.02,277.30v-3.10M354.02,9.40v3.10M366.29,277.30v-5.20M366.29,9.40v5.20M378.56,277.30v-3.10M378.56,9.40v3.10M390.83,277.30v-3.10M390.83,9.40v3.10M403.11,277.30v-3.10M403.11,9.40v3.10M415.38,277.30v-3.10M415.38,9.40v3.10M427.65,277.30v-5.20M427.65,9.40v5.20M59.50,277.30h4.42M427.65,277.30h-4.42M59.50,269.65h2.63M427.65,269.65h-2.63M59.50,261.99h2.63M427.65,261.99h-2.63M59.50,254.34h2.63M427.65,254.34h-2.63M59.50,246.68h2.63M427.65,246.68h-2.63M59.50,239.03h4.42M427.65,239.03h-4.42M59.50,231.37h2.63M427.65,231.37h-2.63M59.50,223.72h2.63M427.65,223.72h-2.63M59.50,216.07h2.63M427.65,216.07h-2.63M59.50,208.41h2.63M427.65,208.41h-2.63M59.50,200.76h4.42M427.65,200.76h-4.42M59.50,193.10h2.63M427.65,193.10h-2.63M59.50,185.45h2.63M427.65,185.45h-2.63M59.50,177.79h2.63M427.65,177.79h-2.63M59.50,170.14h2.63M427.65,170.14h-2.63M59.50,162.49h4.42M427.65,162.49h-4.42M59.50,154.83h2.63M427.65,154.83h-2.63M59.50,147.18h2.63M427.65,147.18h-2.63M59.50,139.52h2.63M427.65,139.52h-2.63M59.50,131.87h2.63M427.65,131.87h-2.63M59.50,124.21h4.42M427.65,124.21h-4.42M59.50,116.56h2.63M427.65,116.56h-2.63M59.50,108.91h2.63M427.65,108.91h-2.63M59.50,101.25h2.63M427.65,101.25h-2.63M59.50,93.60h2.63M427.65,93.60h-2.63M59.50,85.94h4.42M427.65,85.94h-4.42M59.50,78.29h2.63M427.65,78.29h-2.63M59.50,70.63h2.63M427.65,70.63h-2.63M59.50,62.98h2.63M427.65,62.98h-2.63M59.50,55.33h2.63M427.65,55.33h-2.63M59.50,47.67h4.42M427.65,47.67h-4.42M59.50,40.02h2.63M427.65,40.02h-2.63M59.50,32.36h2.63M427.65,32.36h-2.63M59.50,24.71h2.63M427.65,24.71h-2.63M59.50,17.05h2.63M427.65,17.05h-2.63M59.50,9.40h4.42M427.65,9.40h-4.42"/>
</g>
<g opacity="0.96" style="filter:grayscale(1)">
<text transform="translate(59.50,296.30) scale(0.8,1)" text-anchor="middle">0.0</text>
<text transform="translate(120.86,296.30) scale(0.8,1)" text-anchor="middle">0.5</text>
<text transform="translate(182.22,296.30) scale(0.8,1)" text-anchor="middle">1.0</text>
<text transform="translate(243.57,296.30) scale(0.8,1)" text-anchor="middle">1.5</text>
<text transform="translate(304.93,296.30) scale(0.8,1)" text-anchor="middle">2.0</text>
<text transform="translate(366.29,296.30) scale(0.8,1)" text-anchor="middle">2.5</text>
<text transform="translate(427.65,296.30) scale(0.8,1)" text-anchor="middle">3.0</text>
<text transform="translate(55.30,282.70) scale(0.8,1)" text-anchor="end">0.000</text>
<text transform="translate(55.30,244.43) scale(0.8,1)" text-anchor="end">0.005</text>
<text transform="translate(55.30,206.16) scale(0.8,1)" text-anchor="end">0.010</text>
<text transform="translate(55.30,167.89) scale(0.8,1)" text-anchor="end">0.015</text>
<text transform="translate(55.30,129.61) scale(0.8,1)" text-anchor="end">0.020</text>
<text transform="translate(55.30,91.34) scale(0.8,1)" text-anchor="end">0.025</text>
<text transform="translate(55.30,53.07) scale(0.8,1)" text-anchor="end">0.030</text>
<text transform="translate(55.30,14.80) scale(0.8,1)" text-anchor="end">0.035</text>
<text transform="translate(243.8,323.5) scale(0.8,1)" text-anchor="middle">x</text>
</g>
<g opacity="0.98" style="filter:grayscale(1)"><g transform="translate(11.9,167) rotate(-90)"><text transform="translate(0.00,0.00) scale(1.12,1)" style="font-size:14.5px">&#916;</text><text transform="translate(10.70,0.00) scale(1.05,1)" style="font-size:13.5px">n</text><text transform="translate(17.30,2.40) scale(1,1)" style="font-size:10px;font-style:italic">k</text><text transform="translate(23.80,-0.70) scale(1,1)" style="font-size:12px">(</text><text transform="translate(28.80,1.50) scale(0.76,1)" style="font-size:16px;font-style:italic">J</text><text transform="translate(35.50,-4.60) scale(1,1)" style="font-size:10px">+</text><text transform="translate(43.20,-0.70) scale(1,1)" style="font-size:12px">)</text></g></g>
</svg>
</body></html>
